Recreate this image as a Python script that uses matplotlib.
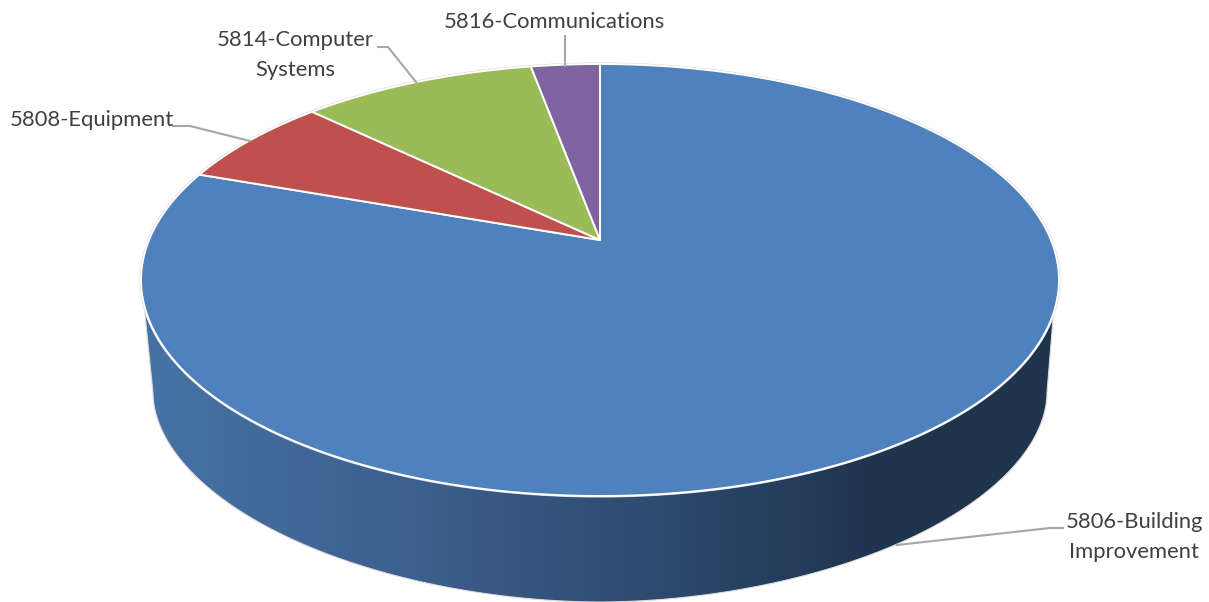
import numpy as np
import matplotlib
matplotlib.use("Agg")
import matplotlib.pyplot as plt
from matplotlib.patches import Polygon
from matplotlib.colors import LinearSegmentedColormap

categories = ["5806-Building\nImprovement", "5808-Equipment", "5814-Computer\nSystems", "5816-Communications"]
values = [80.4, 6.8, 9.9, 2.9]
colors = ["#4F81BD", "#C0504D", "#9BBB59", "#8064A2"]
label_pos = [(1134, 537), (92, 120.5), (295, 55), (554.5, 22)]
leaders = [
    [(1063, 528), (1050, 528), (897, 545)],
    [(173, 126), (190, 126), (250, 141)],
    [(378, 47), (388, 47), (416, 82)],
    [(565, 36), (565, 66)],
]

plt.rcParams["font.family"] = ["Lato", "DejaVu Sans"]

fig = plt.figure(figsize=(12.09, 6.02), dpi=100)
ax = fig.add_axes([0, 0, 1, 1])
ax.set_xlim(0, 1209)
ax.set_ylim(602, 0)
ax.axis("off")

# Perspective disc geometry
CX, APEX_Y = 600.0, 240.0
K = 0.1852
A, B = 451.0, 208.6


def project(theta):
    """theta: radians clockwise from the top of the disc."""
    u, v = np.sin(theta), np.cos(theta)
    w = 1 + K * v
    return CX + A * u / w, APEX_Y - B * v / w


# Side wall with a horizontal gradient
t_front = np.radians(np.linspace(-250, 250, 1500))
px, py = project(t_front)
front = (py > 303) & (px < 800) | (py > 312)
top_arc = np.column_stack([px[front], py[front]])
top_arc = top_arc[np.argsort(top_arc[:, 0])]
phi = np.linspace(np.pi, 0, 600)
P = 2 / 1.9
bottom_arc = np.column_stack([
    600 + 447 * np.sign(np.cos(phi)) * np.abs(np.cos(phi)) ** P,
    393 + 209 * np.abs(np.sin(phi)) ** P,
])
wall = np.vstack([top_arc, bottom_arc[::-1]])

cmap = LinearSegmentedColormap.from_list(
    "wall", [(0, "#4673A6"), (0.30, "#3C5F8D"), (0.62, "#2A4568"), (0.80, "#1F344D"), (1, "#1F344D")]
)
grad = np.linspace(0, 1, 900)[None, :]
im = ax.imshow(grad, extent=(140, 1062, 604, 60), cmap=cmap, aspect="auto", zorder=1)
wall_patch = Polygon(wall, closed=True, transform=ax.transData, fc="none", ec="none")
ax.add_patch(wall_patch)
im.set_clip_path(wall_patch)
ax.add_patch(Polygon(wall, closed=True, fc="none", ec="#DCDCDC", lw=0.8, zorder=2))
ax.set_xlim(0, 1209)
ax.set_ylim(602, 0)

# Top face outline
ring = np.radians(np.linspace(0, 360, 1200))
rx, ry = project(ring)
ax.plot(rx, ry, color="#DADADA", lw=2.2, zorder=3, solid_capstyle="round")

# Slices, from the values
edges = np.radians(np.concatenate([[0], np.cumsum(values)]) / np.sum(values) * 360)
for i, col in enumerate(colors):
    t = np.linspace(edges[i], edges[i + 1], 500)
    x, y = project(t)
    pts = np.vstack([[CX, APEX_Y], np.column_stack([x, y])])
    ax.add_patch(Polygon(pts, closed=True, fc=col, ec="white", lw=1.4, joinstyle="round", zorder=4))

# Labels and leader lines
for name, (lx, ly), seg in zip(categories, label_pos, leaders):
    ax.text(lx, ly, name, ha="center", va="center", fontsize=15.8, color="#404040",
            linespacing=1.65, zorder=6)
    seg = np.array(seg)
    ax.plot(seg[:, 0], seg[:, 1], color="#A6A6A6", lw=1.5, zorder=5)

fig.savefig("out.png", dpi=100, facecolor="white")
